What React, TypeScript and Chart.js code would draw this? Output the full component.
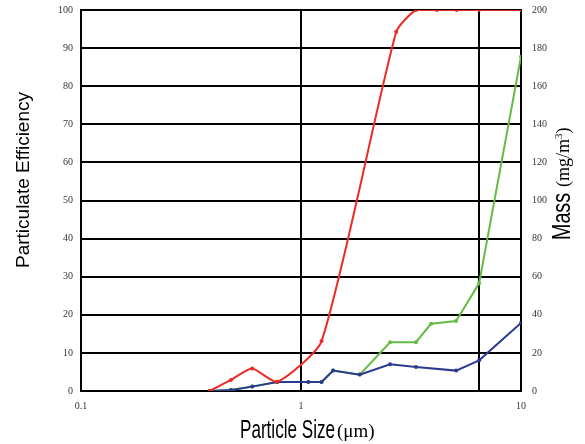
import React, { useEffect, useRef } from "react";
import { Chart, registerables } from "chart.js";

Chart.register(...registerables);

// ---- data ----
const redX = [0.385, 0.48, 0.6, 0.78, 1.24, 2.71, 3.33, 4.14, 5.1, 6.45, 10];
const redY = [0, 2.9, 5.9, 2.4, 13.1, 94.3, 100, 100, 100, 100, 100];

const blueX = [0.385, 0.48, 0.6, 0.78, 1.08, 1.24, 1.4, 1.85, 2.54, 3.33, 5.07, 6.45, 10];
const blueY = [0, 0.5, 2.3, 4.7, 4.7, 4.7, 10.7, 8.6, 14, 12.6, 10.7, 16.1, 35.7];

const greenX = [0.385, 0.48, 0.6, 0.78, 1.08, 1.24, 1.4, 1.85, 2.54, 3.33, 3.9, 5.07, 6.45, 10];
const greenY = [0, 0.5, 2.3, 4.7, 4.7, 4.7, 10.7, 8.6, 25.6, 25.6, 35.3, 36.7, 56.5, 175.5];

const xTicks = [0.1, 1, 6.45, 10];
const xTickLabels = ["0.1", "1", "", "10"];

const leftTitle = "Particulate Efficiency";
const bottomTitle = "Particle Size";
const bottomUnit = "(\u03bcm)";
const rightTitle = "Mass";
const rightUnitA = "(mg/m";
const rightUnitSup = "3";
const rightUnitB = ")";

const SANS = '"Liberation Sans", Arial, sans-serif';
const SERIF = '"Liberation Serif", "Times New Roman", serif';

function pts(xs: number[], ys: number[]) {
  return xs.map((x, i) => ({ x, y: ys[i] }));
}

function drawCondensed(ctx: CanvasRenderingContext2D, text: string, font: string, width: number) {
  ctx.font = font;
  const w = ctx.measureText(text).width;
  ctx.save();
  ctx.scale(width / w, 1);
  ctx.fillText(text, 0, 0);
  ctx.restore();
}

const titlePlugin = {
  id: "customTitles",
  afterDraw(chart: any) {
    const ctx: CanvasRenderingContext2D = chart.ctx;
    ctx.save();
    ctx.fillStyle = "#000";
    ctx.textBaseline = "alphabetic";

    // left title
    ctx.save();
    ctx.translate(29, 180);
    ctx.rotate(-Math.PI / 2);
    ctx.font = "19px " + SANS;
    ctx.textAlign = "center";
    ctx.fillText(leftTitle, 0, 0);
    ctx.restore();

    // bottom title
    ctx.save();
    ctx.textAlign = "left";
    ctx.translate(240, 438);
    drawCondensed(ctx, bottomTitle, "25px " + SANS, 95);
    ctx.font = "19px " + SERIF;
    ctx.fillText(bottomUnit, 97, -1);
    ctx.restore();

    // right title
    ctx.save();
    ctx.textAlign = "left";
    ctx.translate(570, 240);
    ctx.rotate(-Math.PI / 2);
    drawCondensed(ctx, rightTitle, "25px " + SANS, 47);
    ctx.font = "18px " + SERIF;
    let off = 53;
    ctx.fillText(rightUnitA, off, -1);
    off += ctx.measureText(rightUnitA).width;
    ctx.font = "11px " + SERIF;
    ctx.fillText(rightUnitSup, off, -8);
    off += ctx.measureText(rightUnitSup).width;
    ctx.font = "18px " + SERIF;
    ctx.fillText(rightUnitB, off, -1);
    ctx.restore();

    ctx.restore();
  },
};

function fitY(width: number) {
  return (scale: any) => {
    scale.width = width;
    scale.paddingTop = 0;
    scale.paddingBottom = 0;
  };
}

export default function App() {
  const ref = useRef<HTMLCanvasElement>(null);

  useEffect(() => {
    if (!ref.current) return;
    const tickFont = { family: SERIF, size: 10 };
    const chart = new Chart(ref.current, {
      type: "line",
      data: {
        datasets: [
          {
            label: "Efficiency",
            data: pts(redX, redY),
            borderColor: "#ee2a24",
            backgroundColor: "#ee2a24",
            borderWidth: 2,
            pointRadius: 2,
            pointBorderWidth: 0,
            tension: 0.2,
            yAxisID: "y",
          },
          {
            label: "Mass A",
            data: pts(blueX, blueY),
            borderColor: "#2b3b90",
            backgroundColor: "#2b3b90",
            borderWidth: 2,
            pointRadius: 2,
            pointBorderWidth: 0,
            tension: 0,
            yAxisID: "y2",
          },
          {
            label: "Mass B",
            data: pts(greenX, greenY),
            borderColor: "#66bb44",
            backgroundColor: "#66bb44",
            borderWidth: 2,
            pointRadius: 2,
            pointBorderWidth: 0,
            tension: 0,
            yAxisID: "y2",
          },
        ],
      },
      options: {
        responsive: false,
        animation: false,
        layout: { padding: { top: 10, left: 0, right: 0, bottom: 0 } },
        plugins: {
          legend: { display: false },
          tooltip: { enabled: false },
          title: { display: false },
        },
        scales: {
          x: {
            type: "logarithmic",
            min: 0.1,
            max: 10,
            afterBuildTicks: (scale: any) => {
              scale.ticks = xTicks.map((v) => ({ value: v }));
            },
            afterFit: (scale: any) => {
              scale.height = 53;
              scale.paddingLeft = 0;
              scale.paddingRight = 0;
            },
            ticks: {
              autoSkip: false,
              maxRotation: 0,
              padding: 9,
              color: "#333",
              font: tickFont,
              callback: (v: any) => {
                const i = xTicks.indexOf(Number(v));
                return i >= 0 ? xTickLabels[i] : "";
              },
            },
            grid: { color: "#000", lineWidth: 2, drawTicks: false },
            border: { display: false },
          },
          y: {
            position: "left",
            min: 0,
            max: 100,
            afterFit: fitY(81),
            ticks: { stepSize: 10, padding: 8, color: "#333", font: tickFont },
            grid: { color: "#000", lineWidth: 2, drawTicks: false },
            border: { color: "#000", width: 2 },
          },
          y2: {
            position: "right",
            min: 0,
            max: 200,
            afterFit: fitY(64),
            ticks: { stepSize: 20, padding: 11, color: "#333", font: tickFont },
            grid: { display: false, drawTicks: false },
            border: { color: "#000", width: 2 },
          },
        },
      },
      plugins: [titlePlugin],
    } as any);
    return () => chart.destroy();
  }, []);

  return (
    <div style={{ position: "fixed", left: 0, top: 0, width: 585, height: 444, background: "#fff" }}>
      <canvas ref={ref} width={585} height={444} style={{ display: "block" }} />
    </div>
  );
}
